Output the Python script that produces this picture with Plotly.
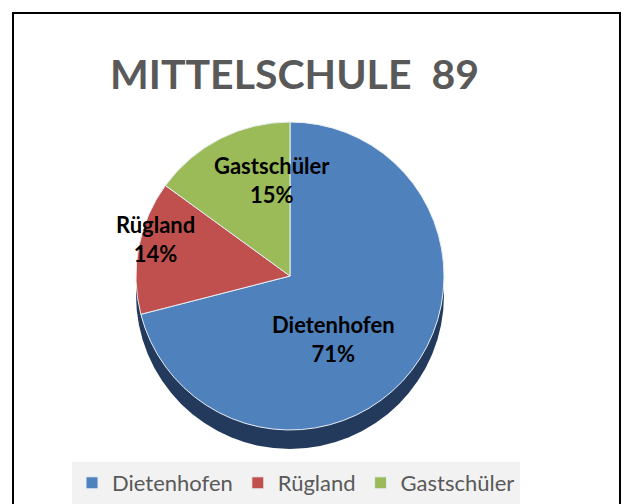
import plotly.graph_objects as go

W, H = 622, 504

title_text = "MITTELSCHULE  89"
categories = ["Dietenhofen", "Rügland", "Gastschüler"]
shares = [71, 14, 15]
colors = ["#4f81bd", "#c0504d", "#9bbb59"]

def px_x(x):
    return x / W

def px_y(y):
    return 1 - y / H

# pie geometry in pixels
cx, cy, r = 290, 276, 154
depth = 19

fig = go.Figure()

# depth (side) of the pie
fig.add_trace(go.Pie(
    values=[sum(shares)],
    labels=["_side"],
    marker=dict(colors=["#233a5c"], line=dict(width=0)),
    textinfo="none",
    hoverinfo="skip",
    showlegend=False,
    sort=False,
    domain=dict(x=[px_x(cx - r), px_x(cx + r)], y=[px_y(cy + depth + r), px_y(cy + depth - r)]),
))

fig.add_trace(go.Pie(
    values=shares,
    labels=categories,
    marker=dict(colors=colors, line=dict(color="#e8eef6", width=1)),
    sort=False,
    direction="clockwise",
    rotation=0,
    textinfo="none",
    domain=dict(x=[px_x(cx - r), px_x(cx + r)], y=[px_y(cy + r), px_y(cy - r)]),
))

# slice labels (text only)
label_pos = {"Dietenhofen": (333, 339), "Rügland": (155, 239), "Gastschüler": (272, 180)}
total = sum(shares)
annotations = [dict(
    text="<b>" + title_text + "</b>",
    x=px_x(294), y=px_y(73), xref="paper", yref="paper",
    xanchor="center", yanchor="middle", showarrow=False,
    font=dict(family="Lato", size=41, color="#595959"),
)]
for cat, val in zip(categories, shares):
    lx, ly = label_pos[cat]
    annotations.append(dict(
        text=f"<b>{cat}<br>{round(100 * val / total)}%</b>",
        x=px_x(lx), y=px_y(ly), xref="paper", yref="paper",
        xanchor="center", yanchor="middle", showarrow=False, align="center",
        font=dict(family="Lato", size=22, color="#000000"),
    ))

fig.update_layout(
    width=W, height=H,
    margin=dict(l=0, r=0, t=0, b=0),
    paper_bgcolor="white",
    plot_bgcolor="white",
    showlegend=True,
    legend=dict(
        orientation="h",
        x=px_x(296), xanchor="center",
        y=px_y(462), yanchor="top",
        bgcolor="#f2f2f2",
        font=dict(family="Lato", size=22, color="#595959"),
        itemwidth=30,
        traceorder="normal",
    ),
    annotations=annotations,
    shapes=[dict(
        type="rect", xref="paper", yref="paper",
        x0=px_x(13), x1=px_x(620), y0=-0.1, y1=px_y(13),
        line=dict(color="#000000", width=2), fillcolor="rgba(0,0,0,0)",
    )],
)

fig.write_html(
    "out.html",
    config={"displayModeBar": False},
    post_script="document.body.style.margin='0';document.body.style.overflow='hidden';",
)
